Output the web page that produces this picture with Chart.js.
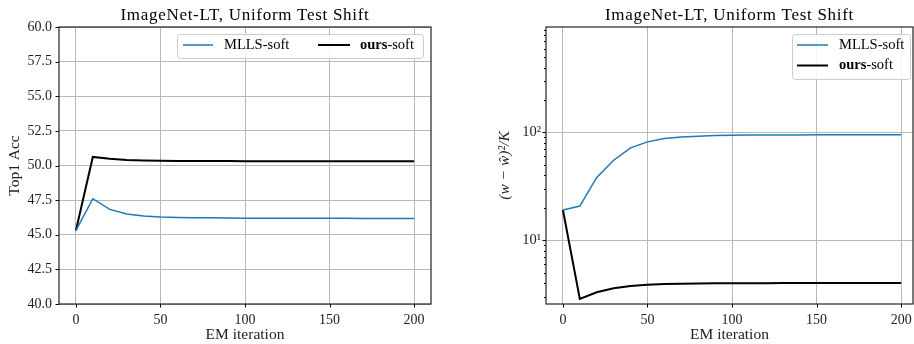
<!DOCTYPE html>
<html>
<head>
<meta charset="utf-8">
<script src="https://cdn.jsdelivr.net/npm/chart.js@4.4.0/dist/chart.umd.min.js"></script>
<style>
  html, body { margin: 0; padding: 0; background: #fff; }
  #wrap { position: relative; width: 914px; height: 344px; overflow: hidden; }
  .panel { position: absolute; top: 0; width: 457px; height: 344px; }
</style>
</head>
<body>
<div id="wrap">
  <div class="panel" style="left:0"><canvas id="accChart" width="457" height="344"></canvas></div>
  <div class="panel" style="left:457px"><canvas id="errChart" width="457" height="344"></canvas></div>
</div>
<script>
// values
var iterations = [0, 10, 20, 30, 40, 50, 60, 70, 80, 90, 100, 110, 120, 130, 140, 150, 160, 170, 180, 190, 200];
var accMlls = [45.3, 47.6, 46.83, 46.5, 46.35, 46.28, 46.25, 46.23, 46.22, 46.21, 46.2, 46.2, 46.19, 46.19, 46.19, 46.19, 46.19, 46.18, 46.18, 46.18, 46.18];
var accOurs = [45.3, 50.62, 50.48, 50.4, 50.36, 50.34, 50.33, 50.33, 50.32, 50.32, 50.31, 50.31, 50.31, 50.31, 50.3, 50.3, 50.3, 50.3, 50.3, 50.3, 50.3];
var errMlls = [19.1, 20.8, 38.3, 55.3, 72, 81.8, 88, 91, 92.4, 93.5, 94.2, 94.5, 94.7, 94.8, 94.9, 95, 95, 95, 95, 95, 95];
var errOurs = [19.1, 2.86, 3.3, 3.59, 3.77, 3.88, 3.94, 3.97, 3.99, 4.0, 4.0, 4.01, 4.01, 4.02, 4.02, 4.02, 4.03, 4.03, 4.03, 4.03, 4.03];

var accTicks = [40, 42.5, 45, 47.5, 50, 52.5, 55, 57.5, 60];
var iterTicks = [0, 50, 100, 150, 200];
var errMajorTicks = [10, 100];
var errMinorTicks = [3, 4, 5, 6, 7, 8, 9, 20, 30, 40, 50, 60, 70, 80, 90, 200, 300, 400, 500, 600, 700, 800, 900];
var seriesNames = ['MLLS-soft', 'ours-soft'];
var titleText = 'ImageNet-LT, Uniform Test Shift';

var FONT = "'Liberation Serif', 'Times New Roman', serif";
var BLUE = '#1f77b4';
var GRID = '#b8b8b8';

function pts(ys) {
  return iterations.map(function(x, i) { return { x: x, y: ys[i] }; });
}

function datasets(a, b) {
  return [
    { label: seriesNames[0], data: pts(a), borderColor: BLUE, borderWidth: 1.5, pointRadius: 0, tension: 0, fill: false },
    { label: seriesNames[1], data: pts(b), borderColor: '#000', borderWidth: 2, pointRadius: 0, tension: 0, fill: false }
  ];
}

function legendEntry(ctx, x1, x2, y, color, width, textX, bold, rest) {
  ctx.strokeStyle = color;
  ctx.lineWidth = width;
  ctx.beginPath(); ctx.moveTo(x1, y); ctx.lineTo(x2, y); ctx.stroke();
  ctx.fillStyle = '#000';
  ctx.textBaseline = 'middle';
  ctx.textAlign = 'left';
  var x = textX;
  if (bold) {
    ctx.font = 'bold 14.5px ' + FONT;
    ctx.fillText(bold, x, y);
    x += ctx.measureText(bold).width;
  }
  ctx.font = '14.5px ' + FONT;
  ctx.fillText(rest, x, y);
}

function framePlugin(legendFn) {
  return {
    id: 'frame',
    afterDraw: function(chart) {
      var ctx = chart.ctx, a = chart.chartArea;
      ctx.save();
      // tick marks
      ctx.strokeStyle = '#000';
      ctx.lineWidth = 1;
      var xs = chart.scales.x, ys = chart.scales.y;
      xs.ticks.forEach(function(t) {
        var px = Math.round(xs.getPixelForValue(t.value)) + 0.5;
        ctx.beginPath(); ctx.moveTo(px, a.bottom); ctx.lineTo(px, a.bottom + 3.5); ctx.stroke();
      });
      ys.ticks.forEach(function(t) {
        var py = Math.round(ys.getPixelForValue(t.value)) + 0.5;
        var len = errMinorTicks.indexOf(t.value) >= 0 && ys.type === 'logarithmic' ? 2 : 3.5;
        ctx.beginPath(); ctx.moveTo(a.left, py); ctx.lineTo(a.left - len, py); ctx.stroke();
      });
      // axes box
      ctx.strokeStyle = '#222';
      ctx.lineWidth = 1.2;
      ctx.strokeRect(a.left, a.top, a.right - a.left, a.bottom - a.top);
      // title
      ctx.fillStyle = '#000';
      ctx.font = '17px ' + FONT;
      ctx.letterSpacing = '0.7px';
      ctx.textAlign = 'center';
      ctx.textBaseline = 'middle';
      ctx.fillText(titleText, (a.left + a.right) / 2, 15.5);
      ctx.letterSpacing = '0px';
      legendFn(ctx, a);
      ctx.restore();
    }
  };
}

function legendBox(ctx, x, y, w, h) {
  ctx.fillStyle = 'rgba(255,255,255,0.85)';
  ctx.strokeStyle = '#cccccc';
  ctx.lineWidth = 1;
  ctx.beginPath();
  ctx.roundRect(x + 0.5, y + 0.5, w, h, 3);
  ctx.fill(); ctx.stroke();
}

function baseOptions(yScale, xMax, padRight, yWidth, yTitle) {
  return {
    responsive: false,
    animation: false,
    layout: { padding: { left: 0, top: 27, right: padRight, bottom: 0 } },
    plugins: { legend: { display: false }, title: { display: false }, tooltip: { enabled: false } },
    scales: {
      x: {
        type: 'linear', min: -10, max: xMax,
        afterBuildTicks: function(s) { s.ticks = iterTicks.map(function(v) { return { value: v }; }); },
        afterFit: function(s) { s.height = 40; s.paddingLeft = 0; s.paddingRight = 0; },
        grid: { color: GRID, lineWidth: 1, drawTicks: false },
        border: { display: false },
        ticks: { color: '#222', font: { family: FONT, size: 14 }, padding: 8, maxRotation: 0, autoSkip: false },
        title: { display: true, text: 'EM iteration', color: '#222', font: { family: FONT, size: 15.5 }, padding: { top: 0, bottom: 0 } }
      },
      y: Object.assign(yScale, {
        afterFit: function(s) { s.width = yWidth; s.paddingTop = 0; s.paddingBottom = 0; },
        border: { display: false },
        title: yTitle
      })
    }
  };
}

new Chart(document.getElementById('accChart'), {
  type: 'line',
  data: { datasets: datasets(accMlls, accOurs) },
  options: baseOptions({
    type: 'linear', min: 40, max: 60,
    afterBuildTicks: function(s) { s.ticks = accTicks.map(function(v) { return { value: v }; }); },
    grid: { color: GRID, lineWidth: 1, drawTicks: false },
    ticks: { color: '#222', font: { family: FONT, size: 14 }, padding: 7, autoSkip: false,
      callback: function(v) { return Number(v).toFixed(1); } }
  }, 210, 26, 59, { display: true, text: 'Top1 Acc', color: '#222', font: { family: FONT, size: 15.5 }, padding: { top: 6, bottom: 0 } }),
  plugins: [framePlugin(function(ctx, a) {
    legendBox(ctx, 177, 34, 246, 24);
    legendEntry(ctx, 183, 213, 45, BLUE, 1.5, 224, null, seriesNames[0]);
    legendEntry(ctx, 318, 350, 45, '#000', 2, 360, 'ours', '-soft');
  })]
});

new Chart(document.getElementById('errChart'), {
  type: 'line',
  data: { datasets: datasets(errMlls, errOurs) },
  options: baseOptions({
    type: 'logarithmic', min: 2.57, max: 950,
    afterBuildTicks: function(s) {
      s.ticks = errMinorTicks.concat(errMajorTicks).sort(function(p, q) { return p - q; })
        .map(function(v) { return { value: v }; });
    },
    grid: { drawTicks: false, lineWidth: 1,
      color: function(c) { return c.tick && errMajorTicks.indexOf(c.tick.value) >= 0 ? GRID : 'rgba(0,0,0,0)'; } },
    ticks: { color: '#222', font: { family: FONT, size: 14.5 }, padding: 5, autoSkip: false,
      callback: function(v) { return v === 10 ? '10\u00b9' : v === 100 ? '10\u00b2' : ''; } }
  }, 207, 1, 89, { display: true, text: '(w \u2212 \u0175)\u00b2/K', color: '#222', font: { family: FONT, size: 15.5, style: 'italic' }, padding: { top: 39, bottom: 0 } }),
  plugins: [framePlugin(function(ctx, a) {
    legendBox(ctx, 335, 34, 118, 45);
    legendEntry(ctx, 340, 371, 45, BLUE, 1.5, 382, null, seriesNames[0]);
    legendEntry(ctx, 340, 371, 65.5, '#000', 2, 382, 'ours', '-soft');
  })]
});
</script>
</body>
</html>
